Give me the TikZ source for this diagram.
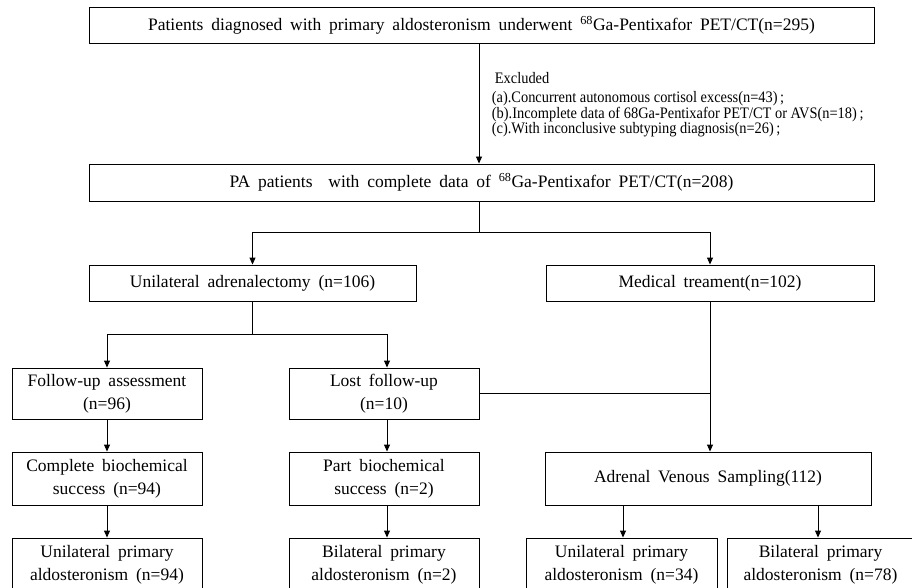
\documentclass[tikz,border=0pt]{standalone}
\usepackage{fontspec}
\setmainfont{Liberation Serif}
\newfontfamily\boxfont{Liberation Serif}
\newfontfamily\exfont[FakeStretch=0.9]{Liberation Serif}
\newcommand\myboxtext{\boxfont\fontsize{17.5}{23}\selectfont\spaceskip 0.45em plus 0.1em minus 0.1em\relax}
\newcommand\myextext{\exfont\fontsize{16}{12.5}\selectfont}
\usetikzlibrary{arrows.meta}
\begin{document}
\begin{tikzpicture}[x=1pt,y=-1pt,
  box/.style={draw=black, line width=0.9pt, align=center, inner sep=0pt,
    font=\myboxtext},
  extext/.style={anchor=north west, inner sep=0pt, align=left,
    font=\myextext},
  conn/.style={line width=0.9pt},
  arr/.style={conn, -{Triangle[length=7pt,width=6pt]}}
]
\useasboundingbox (0,0) rectangle (912,588);
\clip (0,0) rectangle (912,588);

% boxes
\node[box, minimum width=785pt, minimum height=36pt] (top) at (481.5,25)
  {Patients diagnosed with primary aldosteronism underwent \textsuperscript{68}Ga-Pentixafor PET/CT(n=295)};
\node[box, minimum width=785pt, minimum height=37pt] (pa) at (481.5,182.5)
  {PA patients~~with complete data of \textsuperscript{68}Ga-Pentixafor PET/CT(n=208)};
\node[box, minimum width=327pt, minimum height=36pt] (uni) at (252.5,283)
  {Unilateral adrenalectomy (n=106)};
\node[box, minimum width=328pt, minimum height=36pt] (med) at (710,283)
  {Medical treament(n=102)};
\node[box, minimum width=190pt, minimum height=51pt] (fu) at (107,393.5)
  {Follow-up assessment\\(n=96)};
\node[box, minimum width=190pt, minimum height=51pt] (lost) at (384,393.5)
  {Lost follow-up\\(n=10)};
\node[box, minimum width=190pt, minimum height=53pt] (comp) at (107,478.5)
  {Complete biochemical\\success (n=94)};
\node[box, minimum width=190pt, minimum height=53pt] (part) at (384,478.5)
  {Part biochemical\\success (n=2)};
\node[box, minimum width=326pt, minimum height=53pt] (avs) at (708,478.5)
  {Adrenal Venous Sampling(112)};
\node[box, minimum width=190pt, minimum height=53pt] (b1) at (107,564.5)
  {Unilateral primary\\aldosteronism (n=94)};
\node[box, minimum width=190pt, minimum height=53pt] (b2) at (384,564.5)
  {Bilateral primary\\aldosteronism (n=2)};
\node[box, minimum width=191pt, minimum height=53pt] (b3) at (621.5,564.5)
  {Unilateral primary\\aldosteronism (n=34)};
\node[box, minimum width=187pt, minimum height=53pt] (b4) at (820.5,564.5)
  {Bilateral primary\\aldosteronism (n=78)};

% exclusion text
\node[extext] (ex) at (491.7,72.4)
  {\hspace{3pt}Excluded\\[6.5pt]
   (a).Concurrent autonomous cortisol excess(n=43)\,;\\
   (b).Incomplete data of 68Ga-Pentixafor PET/CT or AVS(n=18)\,;\\
   (c).With inconclusive subtyping diagnosis(n=26)\,;};

% helper coordinates
\coordinate (cmain) at (479,0);
\coordinate (j1) at (479,232);
\coordinate (j2) at (252.5,334);
\coordinate (clost) at (387,0);
\coordinate (cmed) at (710,0);
\coordinate (cb3) at (623,0);
\coordinate (cb4) at (818,0);

% connectors
\draw[arr] (top.south -| cmain) -- (pa.north -| cmain);
\draw[conn] (pa.south -| j1) -- (j1);
\draw[arr] (j1) -| (uni.north);
\draw[arr] (j1) -| (med.north -| cmed);
\draw[conn] (uni.south) -- (j2);
\draw[arr] (j2) -| (fu.north);
\draw[arr] (j2) -| (lost.north -| clost);
\draw[arr] (fu.south) -- (comp.north);
\draw[arr] (lost.south -| clost) -- (part.north -| clost);
\draw[arr] (comp.south) -- (b1.north);
\draw[arr] (part.south -| clost) -- (b2.north -| clost);
\draw[arr] (med.south -| cmed) -- (avs.north -| cmed);
\draw[conn] (lost.east) -- (lost.east -| cmed);
\draw[arr] (avs.south -| cb3) -- (b3.north -| cb3);
\draw[arr] (avs.south -| cb4) -- (b4.north -| cb4);
\end{tikzpicture}
\end{document}
